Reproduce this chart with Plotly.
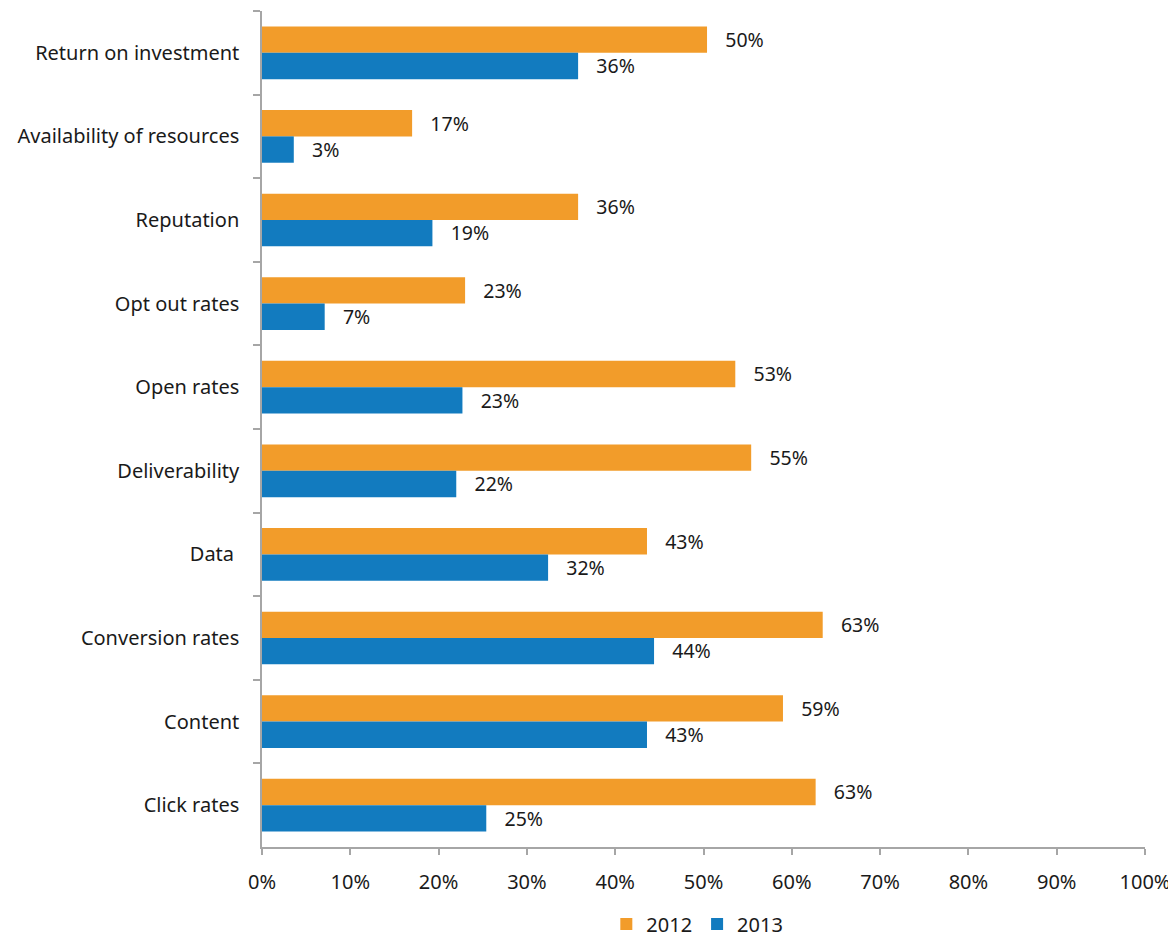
import plotly.graph_objects as go

categories = ["Return on investment", "Availability of resources", "Reputation",
              "Opt out rates", "Open rates", "Deliverability", "Data ",
              "Conversion rates", "Content", "Click rates"]
values_2012 = [50.4, 17.0, 35.8, 23.0, 53.6, 55.4, 43.6, 63.5, 59.0, 62.7]
values_2013 = [35.8, 3.6, 19.3, 7.1, 22.7, 22.0, 32.4, 44.4, 43.6, 25.4]
labels_2012 = [50, 17, 36, 23, 53, 55, 43, 63, 59, 63]
labels_2013 = [36, 3, 19, 7, 23, 22, 32, 44, 43, 25]
x_ticks = [0, 10, 20, 30, 40, 50, 60, 70, 80, 90, 100]
x_ticklabels = [f"{t}%" for t in x_ticks]

FONT = "Noto Sans"
FS = 20
PAD = "\u00a0" * 3

fig = go.Figure()
fig.add_trace(go.Bar(
    y=categories, x=values_2012, orientation="h", name="2012",
    marker=dict(color="#F29C2A", line=dict(width=0)),
    text=[f"{PAD}{v}%" for v in labels_2012], textposition="outside",
    textfont=dict(size=FS, color="#1a1a1a", family=FONT), cliponaxis=False,
))
fig.add_trace(go.Bar(
    y=categories, x=values_2013, orientation="h", name="2013",
    marker=dict(color="#127BBF", line=dict(width=0)),
    text=[f"{PAD}{v}%" for v in labels_2013], textposition="outside",
    textfont=dict(size=FS, color="#1a1a1a", family=FONT), cliponaxis=False,
))

fig.update_layout(
    width=1168, height=932,
    barmode="group", bargap=0.37, bargroupgap=0,
    plot_bgcolor="white", paper_bgcolor="white",
    font=dict(family=FONT, size=FS, color="#1a1a1a"),
    margin=dict(l=254, r=31, t=3, b=93, autoexpand=False),
    showlegend=True,
    legend=dict(orientation="h", x=0.493, xanchor="center", y=-0.092, yanchor="middle",
                font=dict(size=FS, family=FONT), traceorder="normal",
                bgcolor="rgba(0,0,0,0)"),
)
fig.update_xaxes(
    range=[0, 100], tickvals=x_ticks, ticktext=x_ticklabels,
    showgrid=False, zeroline=False, showline=True, linecolor="#A6A6A6", linewidth=1.5,
    ticks="outside", ticklen=6, tickcolor="#A6A6A6", tickwidth=1.5,
    ticklabelstandoff=10, fixedrange=True,
)
fig.update_yaxes(
    autorange="reversed", type="category", tickson="boundaries",
    showgrid=False, zeroline=False, showline=True, linecolor="#A6A6A6", linewidth=1.5,
    ticks="outside", ticklen=7, tickcolor="#A6A6A6", tickwidth=1.5,
    ticklabelstandoff=17,
)

fig.write_html("out.html")
